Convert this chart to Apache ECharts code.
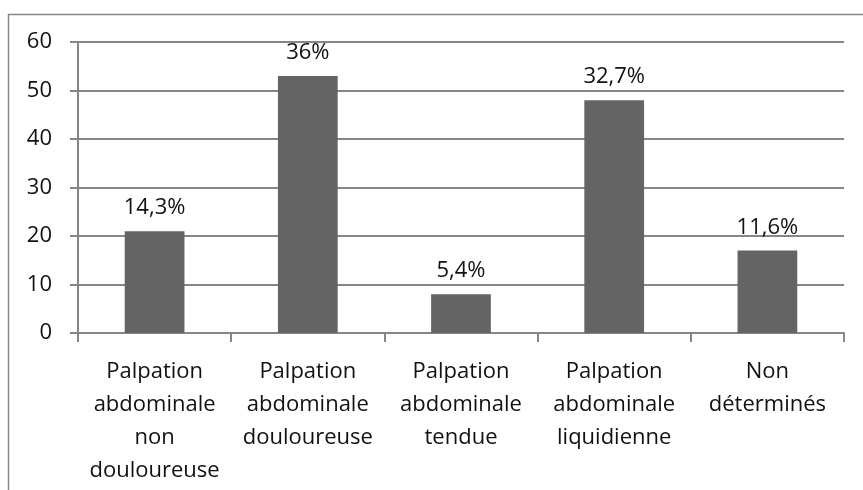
<!DOCTYPE html>
<html>
<head>
<meta charset="utf-8">
<script src="https://cdn.jsdelivr.net/npm/echarts@6/dist/echarts.min.js"></script>
<style>
html,body{margin:0;padding:0;background:#fff;}
#chart{width:863px;height:490px;}
</style>
</head>
<body>
<div id="chart"></div>
<script>
var categories = [
  "Palpation\nabdominale\nnon\ndouloureuse",
  "Palpation\nabdominale\ndouloureuse",
  "Palpation\nabdominale\ntendue",
  "Palpation\nabdominale\nliquidienne",
  "Non\ndéterminés"
];
var values = [21, 53, 8, 48, 17];
var percentLabels = ["14,3%", "36%", "5,4%", "32,7%", "11,6%"];
var yMin = 0, yMax = 60, yInterval = 10;

var FONT = "Open Sans";
var chart = echarts.init(document.getElementById('chart'), null, {renderer: 'canvas'});
chart.setOption({
  animation: false,
  backgroundColor: '#ffffff',
  graphic: [{
    type: 'rect',
    shape: {x: 8.5, y: 14.5, width: 1000, height: 1000},
    style: {fill: 'none', stroke: '#868686', lineWidth: 1.5},
    silent: true, z: -1
  }],
  grid: {left: 78, right: 19, top: 42, bottom: 157, containLabel: false},
  xAxis: {
    type: 'category',
    data: categories,
    boundaryGap: true,
    axisLine: {show: true, lineStyle: {color: '#868686', width: 2}},
    axisTick: {show: true, length: 9, lineStyle: {color: '#868686', width: 2}, alignWithLabel: false},
    axisLabel: {
      interval: 0, color: '#111', fontFamily: FONT, fontSize: 22,
      lineHeight: 33, margin: 22, align: 'center'
    }
  },
  yAxis: {
    type: 'value',
    min: yMin, max: yMax, interval: yInterval,
    axisLine: {show: true, lineStyle: {color: '#868686', width: 2}},
    axisTick: {show: true, length: 8, lineStyle: {color: '#868686', width: 2}},
    splitLine: {show: true, lineStyle: {color: '#868686', width: 2}},
    axisLabel: {color: '#111', fontFamily: FONT, fontSize: 22, margin: 26}
  },
  series: [{
    type: 'bar',
    data: values,
    barWidth: '39%',
    itemStyle: {color: '#646464'},
    label: {
      show: true, position: 'top', distance: 12,
      color: '#111', fontFamily: FONT, fontSize: 22,
      formatter: function (p) { return percentLabels[p.dataIndex]; }
    }
  }]
});
</script>
</body>
</html>
